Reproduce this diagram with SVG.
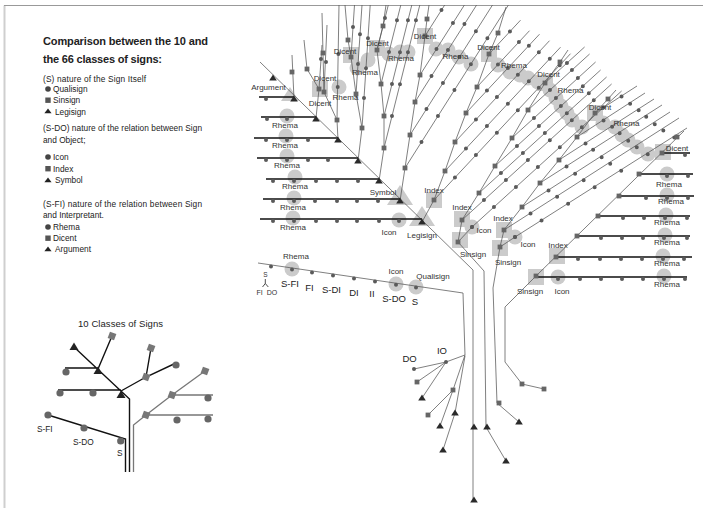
<svg xmlns="http://www.w3.org/2000/svg" width="703" height="508" viewBox="0 0 703 508">
<defs>
<style>
.ln{stroke:#555;stroke-width:.75;fill:none}
.gl{stroke:#777;stroke-width:1.3;fill:none}
.bk{stroke:#111;stroke-width:1.4;fill:none}
.dl{stroke:#5a5a5a;stroke-width:4;stroke-linecap:round;fill:none}
.d{fill:#5a5a5a}
.s{fill:#666}
.t{fill:#2a2a2a}
.h{fill:#cbcbcb}
.lb{font-family:"Liberation Sans",Arial,sans-serif;font-size:8px;fill:#333;text-anchor:middle}
.lv{font-family:"Liberation Sans",Arial,sans-serif;font-size:9.5px;fill:#222;text-anchor:middle}
.tx{font-family:"Liberation Sans",Arial,sans-serif;font-size:8.3px;fill:#222}
.ttl{font-family:"Liberation Sans",Arial,sans-serif;font-size:11px;font-weight:bold;fill:#222}
</style>
<circle id="d" r="2"/>
<rect id="s" x="-2.4" y="-2.4" width="4.8" height="4.8"/>
<path id="t" d="M0-3.6L3.8 2.6H-3.8Z"/>
<circle id="hc" r="7.5"/>
<rect id="hs" x="-8" y="-8" width="16" height="16"/>
<path id="ht" d="M0-12L13 8H-13Z"/>
<circle id="sc" r="3.6"/>
<rect id="ss" x="-3.4" y="-3.4" width="6.8" height="6.8" transform="rotate(20)"/>
<path id="st" d="M0-4.5L4.5 3H-4.5Z"/>
</defs>

<!-- page frame -->
<path d="M4.5 508V5.5" stroke="#cfcfcf" stroke-width="2" fill="none"/>
<path d="M4 5.5H703" stroke="#999" stroke-width="1" fill="none"/>

<!-- legend -->
<g id="legend">
<text class="ttl" x="43" y="44.5" textLength="165">Comparison between the 10 and</text>
<text class="ttl" x="43" y="62.5" textLength="119">the 66 classes of signs:</text>
<text class="tx" x="43" y="82" textLength="103">(S) nature of the Sign Itself</text>
<circle cx="48" cy="89" r="2.8" fill="#444"/><text class="tx" x="53" y="92">Qualisign</text>
<rect x="45.3" y="97.5" width="5.4" height="5.4" fill="#555"/><text class="tx" x="53" y="103">Sinsign</text>
<path d="M48 108.5l3.6 4.8h-7.2z" fill="#222"/><text class="tx" x="55" y="114.5">Legisign</text>
<text class="tx" x="43" y="131" textLength="159">(S-DO) nature of the relation between Sign</text>
<text class="tx" x="43" y="142.5">and Object;</text>
<circle cx="48" cy="157" r="2.8" fill="#444"/><text class="tx" x="53" y="160">Icon</text>
<rect x="45.3" y="166" width="5.4" height="5.4" fill="#555"/><text class="tx" x="53" y="171.5">Index</text>
<path d="M48 177.5l3.6 4.8h-7.2z" fill="#222"/><text class="tx" x="55" y="183">Symbol</text>
<text class="tx" x="43" y="206.5" textLength="159">(S-FI) nature of the relation between Sign</text>
<text class="tx" x="43" y="218">and Interpretant.</text>
<circle cx="48" cy="227" r="2.8" fill="#444"/><text class="tx" x="53" y="230">Rhema</text>
<rect x="45.3" y="235.5" width="5.4" height="5.4" fill="#555"/><text class="tx" x="53" y="241">Dicent</text>
<path d="M48 246.5l3.6 4.8h-7.2z" fill="#222"/><text class="tx" x="55" y="252">Argument</text>
</g>

<!-- tree of the 10 classes -->
<g id="tree10">
<text class="lv" x="120.5" y="327" textLength="85">10 Classes of Signs</text>
<path class="bk" d="M48 415L125.5 439V472"/>
<path class="bk" d="M129.5 472V399L74 347M58 390H121M65 368H98M98 369L112 336M121 391L146 377L176 363M146 377L151 348"/>
<path class="gl" d="M133.5 472V425L146 415L172 395L205 371M146 415H213M172 395H213"/>
<g fill="#666">
<use href="#sc" x="48" y="415"/><use href="#sc" x="84" y="428"/><use href="#sc" x="120.7" y="441"/>
<use href="#sc" x="60" y="393"/><use href="#sc" x="93" y="393"/><use href="#sc" x="66" y="372"/>
<use href="#sc" x="176" y="365"/><use href="#sc" x="177" y="420"/><use href="#sc" x="208" y="398"/><use href="#sc" x="208" y="419"/>
</g>
<g fill="#777">
<use href="#ss" x="112" y="336"/><use href="#ss" x="151" y="348"/><use href="#ss" x="146" y="377"/>
<use href="#ss" x="146" y="415"/><use href="#ss" x="172" y="395"/><use href="#ss" x="205" y="371"/>
</g>
<g fill="#222">
<use href="#st" x="74" y="347"/><use href="#st" x="98" y="371"/><use href="#st" x="121" y="395"/>
</g>
<text class="tx" x="37" y="432">S-FI</text>
<text class="tx" x="73" y="444.5">S-DO</text>
<text class="tx" x="117" y="456">S</text>
</g>

<!-- highlights of the S, S-DO and S-FI positions -->
<g id="highlights" class="h">
<use href="#ht" x="422" y="218"/><use href="#ht" x="400" y="197"/>
<path d="M290 87l9 14h-18z"/>
<use href="#hs" x="434" y="200"/><use href="#hc" x="399" y="220"/>
<use href="#hs" x="462" y="219"/><use href="#hc" x="472" y="227"/><use href="#hs" x="460" y="240"/>
<use href="#hs" x="504" y="230"/><use href="#hc" x="515" y="237"/><use href="#hs" x="500" y="248"/>
<use href="#hs" x="557" y="256"/><use href="#hs" x="536" y="277"/><use href="#hc" x="558" y="277"/>
<use href="#hc" x="292" y="269"/><use href="#hc" x="396" y="284"/><use href="#hc" x="416" y="287"/>
<use href="#hc" x="287" y="116"/><use href="#hc" x="286" y="136"/><use href="#hc" x="287" y="156"/>
<use href="#hc" x="295" y="177"/><use href="#hc" x="294" y="198"/><use href="#hc" x="293" y="218"/>
<use href="#hs" x="663" y="152"/><use href="#hc" x="667" y="174"/><use href="#hc" x="667" y="195"/>
<use href="#hc" x="666" y="215"/><use href="#hc" x="665" y="235"/><use href="#hc" x="663" y="256"/><use href="#hc" x="664" y="276"/>
<use href="#hs" x="320" y="89"/><use href="#hc" x="339" y="87"/>
<use href="#hs" x="351" y="55"/><use href="#hc" x="357" y="68"/><use href="#hc" x="368" y="60"/>
<use href="#hs" x="377" y="48"/><use href="#hc" x="389" y="54"/><use href="#hc" x="400" y="52"/><use href="#hc" x="408" y="52"/>
<use href="#hs" x="425" y="36"/><use href="#hc" x="436" y="49"/><use href="#hc" x="448" y="50"/><use href="#hc" x="459" y="57"/><use href="#hc" x="471" y="64"/>
<use href="#hs" x="489" y="54"/><use href="#hc" x="498" y="65"/><use href="#hc" x="510" y="72"/><use href="#hc" x="520" y="75"/><use href="#hc" x="528" y="78"/><use href="#hc" x="538" y="82"/>
<use href="#hs" x="545" y="83"/><use href="#hc" x="550" y="90"/><use href="#hc" x="556" y="98"/><use href="#hc" x="561" y="106"/><use href="#hc" x="567" y="113"/><use href="#hc" x="572" y="120"/><use href="#hc" x="582" y="127"/>
<use href="#hs" x="595" y="113"/><use href="#hc" x="603" y="123"/><use href="#hc" x="615" y="127"/><use href="#hc" x="622" y="135"/><use href="#hc" x="628" y="140"/><use href="#hc" x="637" y="147"/><use href="#hc" x="648" y="154"/>
</g>

<!-- connectors of the 66 classes -->
<g id="connectors">
<path class="ln" d="M258 263L463 293L465 355M465 355L446 362L414 369M446 362L417 382M446 362L422 398M465 355L453 390L428 415M453 390L440 426M465 356L455 413L443 450"/>
<path class="ln" d="M260 62L473 270V500M458 242L484 271L486 427L506 461M500 247L493 288L497 403L519 422M684 131L536 276L505 307V362L522 384L544 389"/>
<!-- square spines -->
<path class="ln" d="M422 222L434 200L445 171L455 142L466 113L477 87L489 54L498 33L506 7M400 201L405 168L410 135L415 102L420 75L425 36L427 19L429 5M379 181L384 148L384 116L381 84L377 50L383 26L386 5M358 161L362 128L356 94L351 57L348 40L345 5M338 140L337 120L324 92L323 53L322 13M316 118L319 89L307 69L304 40M294 99L292 55"/>
<path class="ln" d="M458 242L462 220L479 193L495 166L512 138L528 110L545 83L560 62L568 50M458 242L472 227M500 247L504 230L522 207L540 183L559 160L577 137L595 113L608 99L616 90M500 247L515 237"/>
<!-- dot branches (lines run past their last dot) -->
<path class="ln" d="M434 200l136.5-146.3M445 171l115.5-123.8M455 142l94.5-101.3M466 113l73.5-78.8M477 87l52.5-56.3M489 54l31.5-33.8"/>
<path class="dl" stroke-dasharray="0 30.72" d="M434 200l126-135M445 171l105-112.5M455 142l84-90M466 113l63-67.5M477 87l42-45M489 54l21-22.5"/>
<path class="ln" d="M405 168L508.4 5M410 135L492.5 5M415 102L476.6 5M420 75L464.4 5M425 36L444.7 5"/>
<path class="dl" stroke-dasharray="0 30.75" d="M405 168l82.5-130M410 135l66-104M415 102l49.5-78M420 75l33-52M425 36l16.5-26"/>
<path class="ln" d="M384 148L419.8 5M384 116L411.8 5M381 84L400.8 5M377 50L388.3 5"/>
<path class="dl" stroke-dasharray="0 32.92" d="M384 148l32-128M384 116l24-96M381 84l16-64M377 50l8-32"/>
<path class="ln" d="M362 128L370.2 5M356 94L362 5M351 57L354.5 5M337 120L339 5M324 92L327 25M319 89L322 45"/>
<path class="dl" stroke-dasharray="0 30" d="M362 128l6-90M356 94l4-60M351 57l2-30M324 92l2-30M319 89l2-30"/>
<path class="dl" stroke-dasharray="0 33" d="M337 120l1.4-66"/>
<path class="ln" d="M462 220l149.6-136M479 193l127.6-116M495 166l105.6-96M512 138l83.6-76M528 110l61.6-56M545 83l39.6-36M472 227l149.6-136"/>
<path class="dl" stroke-dasharray="0 29.68" d="M462 220l132-120M479 193l110-100M495 166l88-80M512 138l66-60M528 110l44-40M545 83l22-20M472 227l132-120"/>
<path class="ln" d="M504 230l175-112M522 207l148-95M540 183l122-78M559 160l95-61M577 137l68-44M595 113l42-27M515 237l172-109"/>
<path class="dl" stroke-dasharray="0 31.3" d="M504 230l159.6-99.6M522 207l133-83M540 183l106.4-66.4M559 160l79.8-49.8M577 137l53.2-33.2M595 113l26.6-16.6M515 237l159.6-99.6"/>
<!-- rows of the legisign branch -->
<path class="bk" d="M259 97H294M261 117H316M254 138H338M257 158H358M266 179H379M263 199H400M260 219H422"/>
<!-- rows of the sinsign branch -->
<path class="bk" d="M662 153H690M639 174H693M619 196H694M598 216H690M577 236H690M556 257H692M536 277H687"/>
</g>

<!-- nodes -->
<g id="dots" class="d">
<use href="#d" x="266" y="99"/>
<use href="#d" x="267" y="119"/><use href="#d" x="287" y="119"/>
<use href="#d" x="266" y="140"/><use href="#d" x="287" y="140"/><use href="#d" x="308" y="140"/>
<use href="#d" x="266" y="160"/><use href="#d" x="287" y="160"/><use href="#d" x="308" y="160"/><use href="#d" x="328" y="160"/>
<use href="#d" x="273" y="181"/><use href="#d" x="294" y="181"/><use href="#d" x="316" y="181"/><use href="#d" x="337" y="181"/><use href="#d" x="358" y="181"/>
<use href="#d" x="273" y="201"/><use href="#d" x="294" y="201"/><use href="#d" x="315" y="201"/><use href="#d" x="337" y="201"/><use href="#d" x="357" y="201"/><use href="#d" x="378" y="201"/>
<use href="#d" x="273" y="221"/><use href="#d" x="294" y="221"/><use href="#d" x="316" y="221"/><use href="#d" x="337" y="221"/><use href="#d" x="357" y="221"/><use href="#d" x="379" y="221"/><use href="#d" x="399" y="221"/>
<use href="#d" x="271" y="266.4"/><use href="#d" x="292" y="269.5"/><use href="#d" x="312" y="272.4"/><use href="#d" x="333" y="275.5"/><use href="#d" x="354" y="278.5"/><use href="#d" x="375" y="281.6"/><use href="#d" x="396" y="284.7"/><use href="#d" x="416" y="287.6"/>
<use href="#d" x="685" y="155"/>
<use href="#d" x="667" y="176"/><use href="#d" x="688" y="176"/>
<use href="#d" x="646" y="198"/><use href="#d" x="667" y="198"/><use href="#d" x="688" y="198"/>
<use href="#d" x="623" y="218"/><use href="#d" x="644" y="218"/><use href="#d" x="665" y="218"/><use href="#d" x="687" y="218"/>
<use href="#d" x="601" y="238"/><use href="#d" x="622" y="238"/><use href="#d" x="643" y="238"/><use href="#d" x="664" y="238"/><use href="#d" x="687" y="238"/>
<use href="#d" x="578" y="259"/><use href="#d" x="600" y="259"/><use href="#d" x="621" y="259"/><use href="#d" x="642" y="259"/><use href="#d" x="663" y="259"/><use href="#d" x="684" y="259"/>
<use href="#d" x="558" y="279"/><use href="#d" x="580" y="279"/><use href="#d" x="601" y="279"/><use href="#d" x="622" y="279"/><use href="#d" x="643" y="279"/><use href="#d" x="664" y="279"/><use href="#d" x="685" y="279"/>
<use href="#d" x="472" y="227"/><use href="#d" x="515" y="237"/>
<use href="#d" x="446" y="362"/><use href="#d" x="414" y="369"/>
</g>
<g id="squares" class="s">
<use href="#s" x="434" y="200"/><use href="#s" x="445" y="171"/><use href="#s" x="455" y="142"/><use href="#s" x="466" y="113"/><use href="#s" x="477" y="87"/><use href="#s" x="489" y="54"/><use href="#s" x="498" y="33"/>
<use href="#s" x="405" y="168"/><use href="#s" x="410" y="135"/><use href="#s" x="415" y="102"/><use href="#s" x="420" y="75"/><use href="#s" x="425" y="36"/><use href="#s" x="427" y="19"/>
<use href="#s" x="384" y="148"/><use href="#s" x="384" y="116"/><use href="#s" x="381" y="84"/><use href="#s" x="377" y="50"/><use href="#s" x="383" y="26"/>
<use href="#s" x="362" y="128"/><use href="#s" x="356" y="94"/><use href="#s" x="351" y="57"/><use href="#s" x="348" y="40"/>
<use href="#s" x="337" y="120"/><use href="#s" x="324" y="92"/><use href="#s" x="323" y="53"/>
<use href="#s" x="319" y="89"/><use href="#s" x="307" y="69"/><use href="#s" x="292" y="72"/>
<use href="#s" x="462" y="220"/><use href="#s" x="479" y="193"/><use href="#s" x="495" y="166"/><use href="#s" x="512" y="138"/><use href="#s" x="528" y="110"/><use href="#s" x="545" y="83"/><use href="#s" x="560" y="62"/>
<use href="#s" x="504" y="230"/><use href="#s" x="522" y="207"/><use href="#s" x="540" y="183"/><use href="#s" x="559" y="160"/><use href="#s" x="577" y="137"/><use href="#s" x="595" y="113"/><use href="#s" x="608" y="99"/>
<use href="#s" x="458" y="242"/><use href="#s" x="500" y="247"/>
<use href="#s" x="536" y="276"/><use href="#s" x="556" y="257"/><use href="#s" x="577" y="236"/><use href="#s" x="598" y="216"/><use href="#s" x="619" y="196"/><use href="#s" x="639" y="174"/><use href="#s" x="662" y="153"/><use href="#s" x="677" y="137"/>
<use href="#s" x="417" y="382"/><use href="#s" x="453" y="390"/><use href="#s" x="428" y="415"/><use href="#s" x="522" y="384"/><use href="#s" x="544" y="389"/><use href="#s" x="499" y="403"/>
</g>
<g id="triangles" class="t">
<use href="#t" x="273" y="78"/><use href="#t" x="294" y="99"/><use href="#t" x="316" y="119"/><use href="#t" x="338" y="140"/><use href="#t" x="358" y="161"/><use href="#t" x="379" y="181"/><use href="#t" x="400" y="201"/><use href="#t" x="422" y="222"/>
<use href="#t" x="422" y="398"/><use href="#t" x="440" y="426"/><use href="#t" x="455" y="413"/><use href="#t" x="443" y="450"/>
<use href="#t" x="474" y="427"/><use href="#t" x="474" y="500"/><use href="#t" x="487" y="427"/><use href="#t" x="506" y="461"/><use href="#t" x="519" y="422"/>
</g>

<!-- labels -->
<g id="labels" class="lb">
<text x="268.5" y="90">Argument</text>
<text x="325" y="80.5">Dicent</text><text x="320" y="106">Dicent</text><text x="345.5" y="100">Rhema</text>
<text x="345" y="54">Dicent</text><text x="365" y="75">Rhema</text>
<text x="377.5" y="46">Dicent</text><text x="401" y="61">Rhema</text>
<text x="425" y="39">Dicent</text><text x="455.5" y="59">Rhema</text>
<text x="488.5" y="50">Dicent</text><text x="514" y="68">Rhema</text>
<text x="548.5" y="77">Dicent</text><text x="570.5" y="93">Rhema</text>
<text x="600" y="110">Dicent</text><text x="626.5" y="126">Rhema</text>
<text x="677" y="151">Dicent</text>
<text x="285" y="128">Rhema</text><text x="285" y="148">Rhema</text><text x="287" y="168">Rhema</text>
<text x="295" y="189">Rhema</text><text x="293" y="209.5">Rhema</text><text x="293" y="230">Rhema</text>
<text x="383" y="195">Symbol</text><text x="434" y="192.5">Index</text>
<text x="389" y="234.5">Icon</text><text x="422" y="237.5">Legisign</text>
<text x="462" y="209.5">Index</text><text x="484" y="233">Icon</text><text x="473" y="256.5">Sinsign</text>
<text x="503" y="221">Index</text><text x="528" y="247">Icon</text><text x="508" y="265">Sinsign</text>
<text x="558" y="248">Index</text><text x="530" y="294">Sinsign</text><text x="562" y="294">Icon</text>
<text x="669" y="186.5">Rhema</text><text x="671" y="204">Rhema</text><text x="667" y="225">Rhema</text>
<text x="667" y="245">Rhema</text><text x="667" y="266">Rhema</text><text x="667" y="287">Rhema</text>
<text x="296" y="259">Rhema</text><text x="396" y="274">Icon</text><text x="433" y="279">Qualisign</text>
</g>
<g id="qualisign-scale">
<text class="lv" x="290" y="287">S-FI</text><text class="lv" x="309.5" y="291">FI</text>
<text class="lv" x="331.5" y="293">S-DI</text><text class="lv" x="354" y="295.5">DI</text>
<text class="lv" x="372" y="296.5">II</text><text class="lv" x="394" y="302">S-DO</text>
<text class="lv" x="415" y="305">S</text>
<text class="lb" x="265.3" y="277" style="font-size:6.5px">S</text>
<path d="M265.3 279V283.5L262.5 287M265.3 283.5L268.3 287" stroke="#222" stroke-width=".8" fill="none"/>
<text class="lb" x="259.5" y="295" style="font-size:7px">FI</text>
<text class="lb" x="272" y="295" style="font-size:7px">DO</text>
<text class="lv" x="409.5" y="362" style="font-size:9.5px">DO</text>
<text class="lv" x="442" y="354" style="font-size:9.5px">IO</text>
</g>
</svg>
